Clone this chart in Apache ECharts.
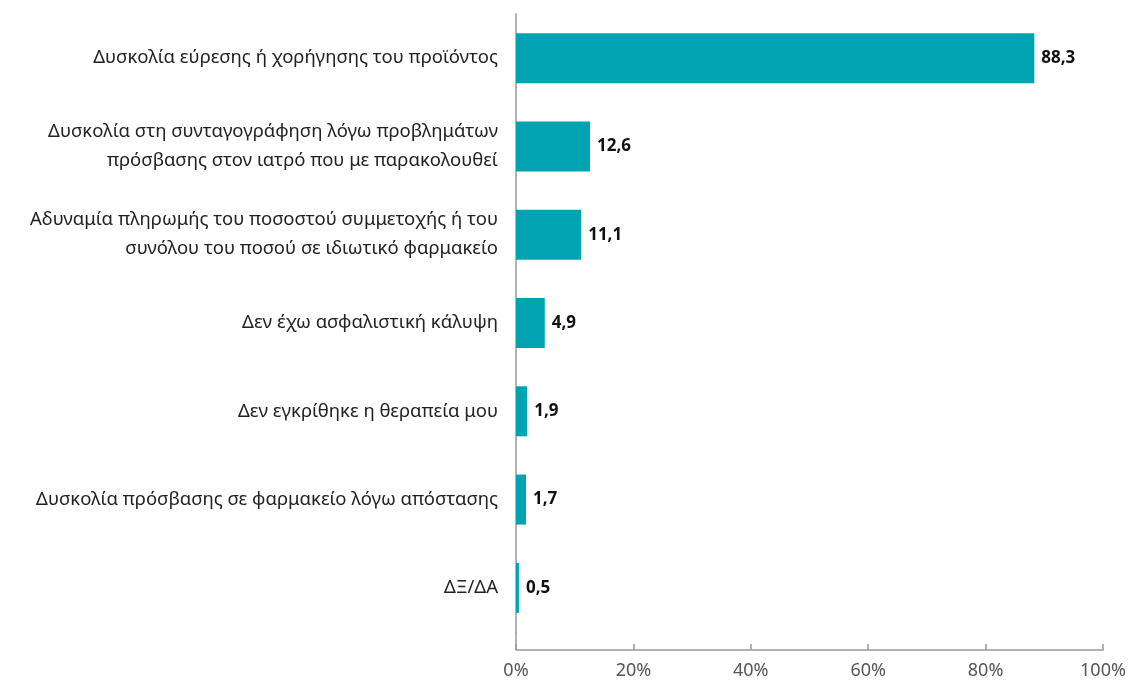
<!DOCTYPE html>
<html lang="el">
<head>
<meta charset="UTF-8">
<script src="https://cdn.jsdelivr.net/npm/echarts@6/dist/echarts.min.js"></script>
<style>
  html, body { margin: 0; padding: 0; background: #fff; }
  #main { width: 1132px; height: 689px; }
</style>
</head>
<body>
<div id="main"></div>
<script>
// κατηγορίες (από πάνω προς τα κάτω)
var categories = [
  'Δυσκολία εύρεσης ή χορήγησης του προϊόντος',
  'Δυσκολία στη συνταγογράφηση λόγω προβλημάτων\nπρόσβασης στον ιατρό που με παρακολουθεί',
  'Αδυναμία πληρωμής του ποσοστού συμμετοχής ή του\nσυνόλου του ποσού σε ιδιωτικό φαρμακείο',
  'Δεν έχω ασφαλιστική κάλυψη',
  'Δεν εγκρίθηκε η θεραπεία μου',
  'Δυσκολία πρόσβασης σε φαρμακείο λόγω απόστασης',
  'ΔΞ/ΔΑ'
];
var values = [88.3, 12.6, 11.1, 4.9, 1.9, 1.7, 0.5];
var xTicks = [0, 20, 40, 60, 80, 100];

var myChart = echarts.init(document.getElementById('main'));
var font = '"Noto Sans", sans-serif';

var option = {
  animation: false,
  grid: { left: 516, right: 29, top: 14, bottom: 57, containLabel: false },
  graphic: [{
    // κάθετη γραμμή συνεχίζει ως τον άξονα x
    type: 'line',
    shape: { x1: 516, y1: 632, x2: 516, y2: 650 },
    style: { stroke: '#999', lineWidth: 1.5 }
  }],
  xAxis: {
    type: 'value',
    min: xTicks[0],
    max: xTicks[xTicks.length - 1],
    interval: 20,
    offset: 18,
    splitLine: { show: false },
    axisLine: { show: true, lineStyle: { color: '#999', width: 1.5 } },
    axisTick: { show: true, inside: true, length: 6, lineStyle: { color: '#999', width: 1.5 } },
    axisLabel: {
      color: '#555', fontSize: 18, fontFamily: font, margin: 12,
      formatter: function (v) { return v + '%'; }
    }
  },
  yAxis: {
    type: 'category',
    inverse: true,
    data: categories,
    axisLine: { show: true, lineStyle: { color: '#999', width: 1.5 } },
    axisTick: { show: false },
    axisLabel: { color: '#222', fontSize: 18.5, fontFamily: font, margin: 18, lineHeight: 29, align: 'right' }
  },
  series: [{
    type: 'bar',
    data: values,
    barWidth: 50,
    itemStyle: { color: '#00A3B1' },
    label: {
      show: true,
      position: 'right',
      distance: 7,
      color: '#111',
      fontSize: 17,
      fontWeight: 'bold',
      fontFamily: font,
      formatter: function (p) { return p.value.toFixed(1).replace('.', ','); }
    }
  }]
};

myChart.setOption(option);
</script>
</body>
</html>
